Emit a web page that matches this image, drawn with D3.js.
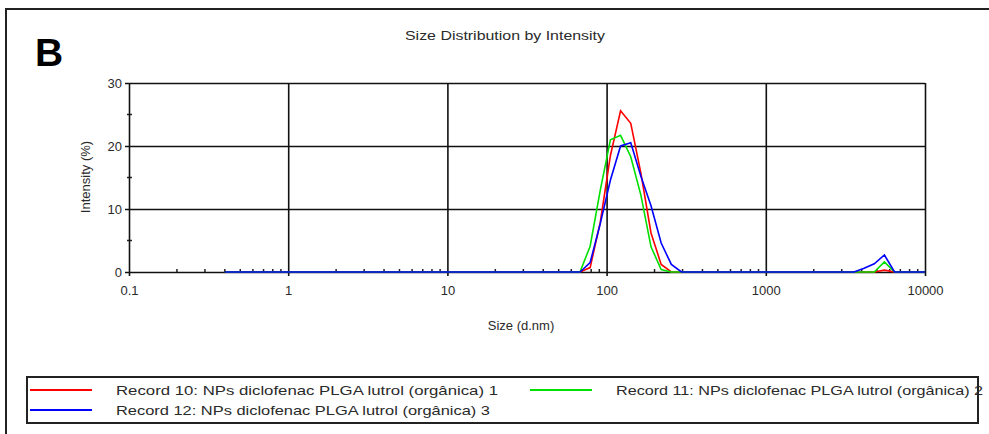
<!DOCTYPE html>
<html>
<head>
<meta charset="utf-8">
<script src="https://cdn.jsdelivr.net/npm/d3@7"></script>
<style>
  body { margin: 0; background: #fff; }
  text { font-family: "Liberation Sans", Arial, sans-serif; fill: #2a2a2a; }
</style>
</head>
<body>
<svg width="989" height="434"></svg>
<script>
// Size classes (d.nm) of the instrument
var sizes = [0.4, 0.4632, 0.5365, 0.6213, 0.7195, 0.8332, 0.9649, 1.117, 1.294, 1.499,
  1.736, 2.01, 2.328, 2.696, 3.122, 3.615, 4.187, 4.849, 5.615, 6.503,
  7.531, 8.721, 10.1, 11.7, 13.54, 15.69, 18.17, 21.04, 24.36, 28.21,
  32.67, 37.84, 43.82, 50.75, 58.77, 68.06, 78.82, 91.28, 105.7, 122.4,
  141.8, 164.2, 190.1, 220.2, 255.0, 295.3, 342.0, 396.1, 458.7, 531.2,
  615.1, 712.4, 825.0, 955.4, 1106, 1281, 1484, 1718, 1990, 2305,
  2669, 3091, 3580, 4145, 4801, 5560, 6439, 7456, 8635, 10000];

// Intensity (%) per size class
var record10 = [0, 0, 0, 0, 0, 0, 0, 0, 0, 0,
  0, 0, 0, 0, 0, 0, 0, 0, 0, 0,
  0, 0, 0, 0, 0, 0, 0, 0, 0, 0,
  0, 0, 0, 0, 0, 0, 0.7, 7.9, 18.5, 25.6,
  23.6, 15.7, 6.2, 1.2, 0, 0, 0, 0, 0, 0,
  0, 0, 0, 0, 0, 0, 0, 0, 0, 0,
  0, 0, 0, 0, 0, 0.3, 0, 0, 0, 0];
var record11 = [0, 0, 0, 0, 0, 0, 0, 0, 0, 0,
  0, 0, 0, 0, 0, 0, 0, 0, 0, 0,
  0, 0, 0, 0, 0, 0, 0, 0, 0, 0,
  0, 0, 0, 0, 0, 0, 4.1, 13.0, 21.0, 21.7,
  18.3, 12.2, 4.0, 0.4, 0, 0, 0, 0, 0, 0,
  0, 0, 0, 0, 0, 0, 0, 0, 0, 0,
  0, 0, 0, 0, 0, 1.6, 0, 0, 0, 0];
var record12 = [0, 0, 0, 0, 0, 0, 0, 0, 0, 0,
  0, 0, 0, 0, 0, 0, 0, 0, 0, 0,
  0, 0, 0, 0, 0, 0, 0, 0, 0, 0,
  0, 0, 0, 0, 0, 0, 1.5, 7.7, 14.6, 20.0,
  20.5, 15.2, 10.5, 4.6, 1.2, 0, 0, 0, 0, 0,
  0, 0, 0, 0, 0, 0, 0, 0, 0, 0,
  0, 0, 0, 0.6, 1.3, 2.7, 0, 0, 0, 0];

var seriesNames = ['Record 10: NPs diclofenac PLGA lutrol (orgânica) 1',
  'Record 11: NPs diclofenac PLGA lutrol (orgânica) 2',
  'Record 12: NPs diclofenac PLGA lutrol (orgânica) 3'];
var seriesColors = ['#ff0000', '#00e000', '#0000ff'];
var xTicks = [0.1, 1, 10, 100, 1000, 10000];
var yTicks = [0, 10, 20, 30];
var yMinor = [5, 15, 25];

var svg = d3.select('svg');
svg.append('rect').attr('width', 989).attr('height', 434).attr('fill', '#fff');

// outer frame (top and left only)
svg.append('path')
  .attr('d', 'M6,434V9H989')
  .attr('fill', 'none')
  .attr('stroke', '#222')
  .attr('stroke-width', 2);

var x = d3.scaleLog().domain([0.1, 10000]).range([129, 925]);
var y = d3.scaleLinear().domain([0, 30]).range([272, 83]);

// minor ticks on x
var xMinor = [];
xTicks.slice(0, -1).forEach(function (d) {
  for (var k = 2; k < 10; k++) xMinor.push(d * k);
});
svg.append('g').selectAll('line')
  .data(xMinor).enter().append('line')
  .attr('x1', function (d) { return x(d); })
  .attr('x2', function (d) { return x(d); })
  .attr('y1', y(0) - 3).attr('y2', y(0) + 1)
  .attr('stroke', '#222').attr('stroke-width', 1.5);

svg.append('g').selectAll('line')
  .data(yMinor).enter().append('line')
  .attr('x1', x(0.1) - 2).attr('x2', x(0.1) + 3)
  .attr('y1', function (d) { return y(d); })
  .attr('y2', function (d) { return y(d); })
  .attr('stroke', '#222').attr('stroke-width', 1.5);

// grid and axes
var xAxis = d3.axisBottom(x).tickValues(xTicks).tickSize(y(0) - y(30) + 4)
  .tickFormat(function (d) { return d; }).tickPadding(10);
var gx = svg.append('g').attr('transform', 'translate(0,' + y(30) + ')').call(xAxis);
gx.select('.domain').remove();
gx.selectAll('line').attr('stroke', '#111').attr('stroke-width', 1.6);
gx.selectAll('text').attr('font-size', 13).attr('fill', '#2a2a2a')
  .attr('font-family', '"Liberation Sans", Arial, sans-serif');

var yAxis = d3.axisLeft(y).tickValues(yTicks).tickSize(x(10000) - x(0.1) + 4)
  .tickPadding(3);
var gy = svg.append('g').attr('transform', 'translate(' + x(10000) + ',0)').call(yAxis);
gy.select('.domain').remove();
gy.selectAll('line').attr('stroke', '#111').attr('stroke-width', 1.6);
gy.selectAll('text').attr('font-size', 13).attr('fill', '#2a2a2a')
  .attr('font-family', '"Liberation Sans", Arial, sans-serif');

// data lines
var seriesData = [record10, record11, record12];
var line = d3.line()
  .x(function (d, i) { return x(sizes[i]); })
  .y(function (d) { return y(d); });

svg.append('g').selectAll('path')
  .data(seriesData).enter().append('path')
  .attr('d', line)
  .attr('fill', 'none')
  .attr('stroke', function (d, i) { return seriesColors[i]; })
  .attr('stroke-width', 1.6)
  .attr('stroke-linejoin', 'miter');

// titles
svg.append('text').attr('x', 35).attr('y', 66)
  .attr('font-size', 39).attr('font-weight', 'bold').attr('fill', '#000')
  .style('fill', '#000').text('B');

svg.append('text').attr('x', 505).attr('y', 40)
  .attr('text-anchor', 'middle').attr('font-size', 12.5)
  .attr('textLength', 200).attr('lengthAdjust', 'spacingAndGlyphs')
  .text('Size Distribution by Intensity');

svg.append('text').attr('x', 521).attr('y', 330)
  .attr('text-anchor', 'middle').attr('font-size', 13)
  .text('Size (d.nm)');

svg.append('text')
  .attr('transform', 'translate(90,177) rotate(-90)')
  .attr('text-anchor', 'middle').attr('font-size', 13)
  .text('Intensity (%)');

// legend
var legend = svg.append('g');
legend.append('rect')
  .attr('x', 27).attr('y', 377).attr('width', 951).attr('height', 46)
  .attr('fill', 'none').attr('stroke', '#222').attr('stroke-width', 2);

var legendPos = [[30, 390, 382], [530, 390, 367], [30, 410, 374]];
legendPos.forEach(function (p, i) {
  legend.append('line')
    .attr('x1', p[0]).attr('x2', p[0] + 62)
    .attr('y1', p[1]).attr('y2', p[1])
    .attr('stroke', seriesColors[i]).attr('stroke-width', 2);
  legend.append('text')
    .attr('x', p[0] + 86).attr('y', p[1] + 5)
    .attr('font-size', 13)
    .attr('textLength', p[2]).attr('lengthAdjust', 'spacingAndGlyphs')
    .text(seriesNames[i]);
});
</script>
</body>
</html>
